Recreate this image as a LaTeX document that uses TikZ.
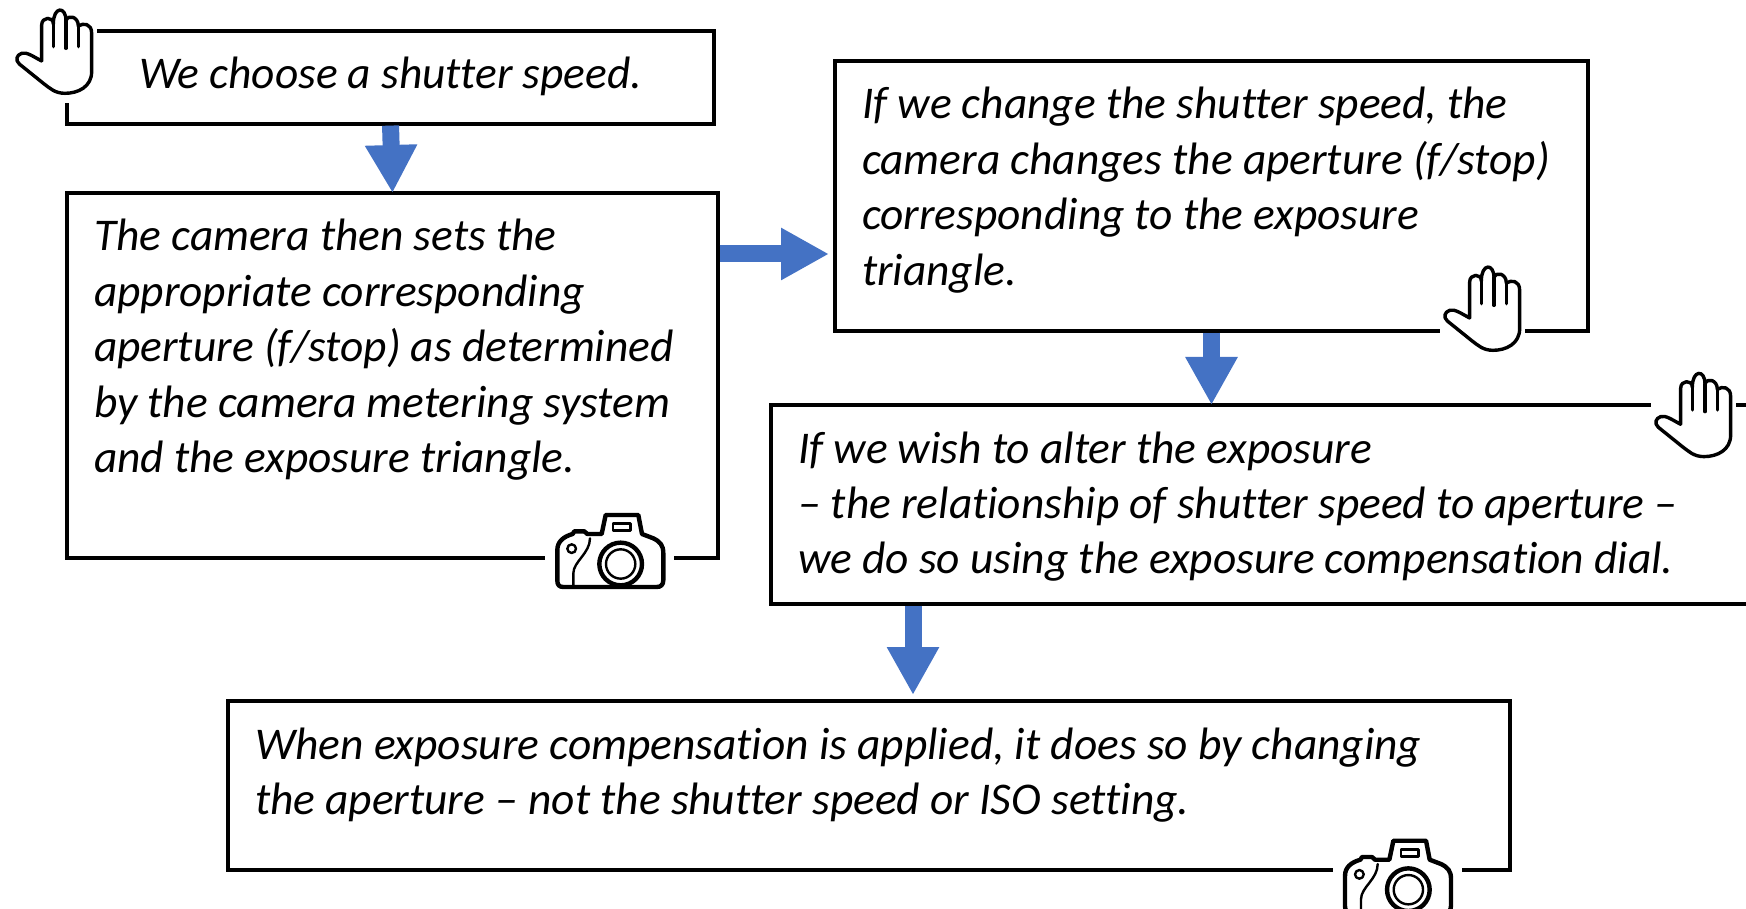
\documentclass[tikz,border=0pt]{standalone}
\usepackage{fontspec}
\setmainfont[Ligatures = {TeX, NoCommon}]{Carlito}
\usetikzlibrary{arrows.meta}
\definecolor{flowblue}{HTML}{4472C4}
\tikzset{
  panel/.style = {draw, line width = 1.6pt, anchor = north west, align = flush left, outer sep = 0pt,
    inner xsep = 13.5pt, inner ysep = 0pt, text height = 29pt,
    font = \fontsize{22.7}{27.7}\selectfont\itshape},
  flow/.style = {flowblue, line width = 8.5pt, shorten < = .8pt,
    -{Triangle[length = 24pt, width = 24.5pt]}},
  iconline/.style = {line width = 1.7pt, line join = round, line cap = round},
  handicon/.pic = {
    \fill [white] (35,15) rectangle (292,310);
    \draw [iconline] (125,183) -- (125,75) .. controls (125,50) and (160,48) .. (160,72)
      .. controls (160,18) and (198,18) .. (198,62) .. controls (205,42) and (235,50) .. (235,78)
      .. controls (250,68) and (275,70) .. (275,100) -- (275,215)
      .. controls (275,260) and (235,280) .. (195,280) .. controls (165,280) and (150,265) .. (130,250)
      -- (58,192) .. controls (45,180) and (50,165) .. (65,160) .. controls (80,155) and (100,170) .. (125,183);
    \draw [iconline] (160,72) -- (160,140);
    \draw [iconline] (198,62) -- (198,145);
    \draw [iconline] (235,78) -- (235,140);
  },
  cameraicon/.pic = {
    \fill [white] (45,60) rectangle (433,305);
    \draw [iconline, line width = 2.2pt] (82,180) .. controls (82,155) and (100,140) .. (128,132)
      -- (133,124) -- (163,124) -- (172,132) -- (215,132) -- (227,75) -- (325,75) -- (336,132)
      -- (370,145) .. controls (390,155) and (400,165) .. (400,190) -- (400,270)
      .. controls (400,285) and (392,291) .. (380,291) -- (100,291)
      .. controls (88,291) and (82,285) .. (82,272) -- cycle;
    \draw [iconline, line width = 1.2pt] (249,101) rectangle (302,122);
    \draw [iconline, line width = 2.2pt] (272,222) circle (64);
    \draw [iconline, line width = 1.2pt] (272,222) circle (44);
    \draw [iconline, line width = 1.2pt] (125,176) circle (13);
    \draw [iconline, line width = 1.2pt] (180,145) .. controls (180,190) and (130,215) .. (130,250) -- (130,288);
  }
}
\begin{document}
\begin{tikzpicture}[x = .5pt, y = -.5pt]
  \useasboundingbox (0,0) rectangle (1746,909);
  \node [panel, text width = 296.5pt, text depth = 17.5pt] (shutter) at (67,31)
    {\hspace*{22.5pt}We choose a shutter speed.};
  \node [panel, text width = 298.5pt, text depth = 153.5pt] (meter) at (67,193)
    {The camera then sets the\\ appropriate corresponding\\ aperture (f/stop) as determined\\ by the camera metering system\\ and the exposure triangle.};
  \node [panel, text width = 349.5pt, text depth = 106pt] (change) at (835,61)
    {If we change the shutter speed, the\\ camera changes the aperture (f/stop)\\ corresponding to the exposure\\ triangle.};
  \node [panel, text width = 480pt, text depth = 70.5pt] (alter) at (771,405)
    {If we wish to alter the exposure\\ -- the relationship of shutter speed to aperture --\\ we do so using the exposure compensation dial.};
  \node [panel, text width = 614pt, text depth = 55.5pt] (applied) at (228,701)
    {When exposure compensation is applied, it does so by changing\\ the aperture -- not the shutter speed or ISO setting.};

  \coordinate (meterout) at (meter.east |- 0,254);
  \coordinate (changein) at (829,254);
  \coordinate (alterout) at (913,604);
  \coordinate (appliedin) at (913,695);

  \draw [flow] (shutter.south) -- (meter.north);
  \draw [flow] (meterout) -- (changein);
  \draw [flow] (change.south) -- (alter.north -| change.south);
  \draw [flow] (alterout) -- (appliedin);

  \pic [scale = .3333] at (0,0) {handicon};
  \pic [scale = .3333] at (1428,257) {handicon};
  \pic [scale = .3333] at (1639,363.3) {handicon};
  \pic [scale = .3333] at (530,490) {cameraicon};
  \pic [scale = .3333] at (1317.7,815.7) {cameraicon};
\end{tikzpicture}
\end{document}
